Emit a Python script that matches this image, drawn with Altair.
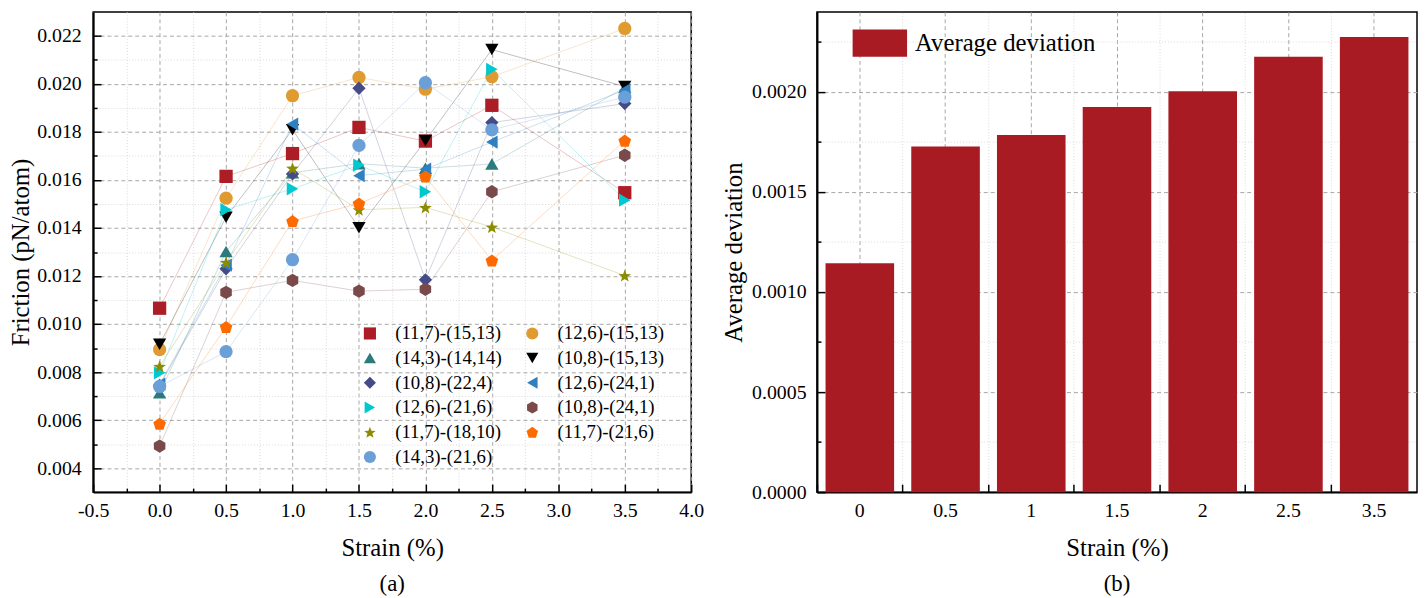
import math
import altair as alt
import pandas as pd

# ---------------- data ----------------
strain = [0.0, 0.5, 1.0, 1.5, 2.0, 2.5, 3.5]

series_names = [
    "(11,7)-(15,13)", "(12,6)-(15,13)", "(14,3)-(14,14)", "(10,8)-(15,13)",
    "(10,8)-(22,4)", "(12,6)-(24,1)", "(12,6)-(21,6)", "(10,8)-(24,1)",
    "(11,7)-(18,10)", "(11,7)-(21,6)", "(14,3)-(21,6)",
]

f_11_7_15_13 = [0.01066, 0.01615, 0.01710, 0.01819, 0.01762, 0.01911, 0.01547]
f_12_6_15_13 = [0.00894, 0.01524, 0.01951, 0.02027, 0.01978, 0.02030, 0.02231]
f_14_3_14_14 = [0.00714, 0.01302, 0.01630, 0.01668, 0.01649, 0.01667, 0.01985]
f_10_8_15_13 = [0.00916, 0.01445, 0.01809, 0.01401, 0.01764, 0.02143, 0.01989]
f_10_8_22_4 = [0.00745, 0.01230, 0.01625, 0.01982, 0.01184, 0.01839, 0.01918]
f_12_6_24_1 = [0.00750, 0.01245, 0.01833, 0.01618, 0.01645, 0.01758, 0.01975]
f_12_6_21_6 = [0.00797, 0.01476, 0.01563, 0.01662, 0.01551, 0.02061, 0.01516]
f_10_8_24_1 = [0.00492, 0.01132, 0.01182, 0.01137, 0.01145, 0.01551, 0.01703]
f_11_7_18_10 = [0.00824, 0.01257, 0.01649, 0.01476, 0.01486, 0.01404, 0.01202]
f_11_7_21_6 = [0.00585, 0.00988, 0.01429, 0.01502, 0.01615, 0.01265, 0.01764]
f_14_3_21_6 = [0.00740, 0.00885, 0.01268, 0.01744, 0.02005, 0.01809, 0.01945]

series_values = [
    f_11_7_15_13, f_12_6_15_13, f_14_3_14_14, f_10_8_15_13, f_10_8_22_4,
    f_12_6_24_1, f_12_6_21_6, f_10_8_24_1, f_11_7_18_10, f_11_7_21_6, f_14_3_21_6,
]

series_colors = [
    "#AD1D25", "#E09B30", "#2B7B7E", "#000000", "#454B87", "#2E80C0",
    "#00C8CF", "#7A4A4A", "#8C8C00", "#FF6A00", "#6A9FD8",
]


def poly_path(pts):
    return "M" + "L".join(f"{x:.3f},{y:.3f}" for x, y in pts) + "Z"


hexagon = poly_path([(math.cos(math.radians(-90 + 60 * k)), math.sin(math.radians(-90 + 60 * k))) for k in range(6)])
pentagon = poly_path([(math.cos(math.radians(-90 + 72 * k)), math.sin(math.radians(-90 + 72 * k)) + 0.1) for k in range(5)])
star = poly_path([
    ((1.0 if k % 2 == 0 else 0.42) * math.cos(math.radians(-90 + 36 * k)),
     (1.0 if k % 2 == 0 else 0.42) * math.sin(math.radians(-90 + 36 * k)) + 0.1)
    for k in range(10)
])

series_shapes = [
    "square", "circle", "triangle-up", "triangle-down", "diamond",
    "triangle-left", "triangle-right", hexagon, star, pentagon, "circle",
]

# legend reads row by row in 2 columns; vega fills columns first
legend_order = [0, 2, 4, 6, 8, 10, 1, 3, 5, 7, 9]

strain_labels_b = ["0", "0.5", "1", "1.5", "2", "2.5", "3.5"]
avg_deviation = [0.001144, 0.001727, 0.001785, 0.001925, 0.002004, 0.002176, 0.002275]

# tick lists
xa_ticks = [round(-0.5 + 0.25 * i, 2) for i in range(19)]
ya_ticks = [round(0.004 + 0.001 * i, 3) for i in range(19)]
yb_ticks = [round(0.00025 * i, 5) for i in range(10)]

rows = []
for name, vals in zip(series_names, series_values):
    for s, v in zip(strain, vals):
        rows.append({"strain": s, "friction": v, "series": name})
df_a = pd.DataFrame(rows)

df_b = pd.DataFrame({"strain": strain_labels_b, "dev": avg_deviation,
                     "name": ["Average deviation"] * len(avg_deviation)})

# ---------------- style ----------------
W_A, W_B, H = 604, 606, 485
FONT = "Liberation Serif"
MAJ_GRID = "#a6a6a6"
MIN_GRID = "#dadada"
TITLE_SIZE = 25


def cond(test, a, b):
    return {"condition": {"test": test, "value": a}, "value": b}


xa_major = "abs(round(datum.value*4)) % 2 == 0"
ya_major = "round(datum.value*1000) % 2 == 0"
yb_major = "round(datum.value*4000) % 2 == 0"

xa_scale = alt.Scale(domain=[-0.5, 4.0], nice=False, zero=False)
ya_scale = alt.Scale(domain=[0.003, 0.023], nice=False, zero=False)

dom_a = [series_names[i] for i in legend_order]
color_a = alt.Scale(domain=dom_a, range=[series_colors[i] for i in legend_order])
shape_a = alt.Scale(domain=dom_a, range=[series_shapes[i] for i in legend_order])

legend_a = alt.Legend(
    title=None, orient="none", legendX=270, legendY=315, columns=2, direction="vertical",
    labelFontSize=19, labelFont=FONT, labelColor="black", labelLimit=300,
    symbolSize=150, symbolStrokeWidth=0,
    symbolOpacity=1, labelOffset=16, columnPadding=21, rowPadding=5,
)

main_xa = alt.Axis(
    values=xa_ticks,
    labelExpr=f"{xa_major} ? (datum.value < 0 ? '-' + format(abs(datum.value), '.1f') : format(datum.value, '.1f')) : ''",
    labelFlush=False, labelOverlap=False, labelFontSize=20, labelFont=FONT, labelPadding=9,
    ticks=False, domain=True, domainColor="black", domainWidth=2,
    grid=True, gridColor=cond(xa_major, MAJ_GRID, MIN_GRID),
    gridDash=cond(xa_major, [4, 3], [1, 2]), gridWidth=1,
    title="Strain (%)", titleFontSize=TITLE_SIZE, titleFont=FONT, titlePadding=15,
)
main_ya = alt.Axis(
    values=ya_ticks,
    labelExpr=f"{ya_major} ? format(datum.value, '.3f') : ''",
    labelOverlap=False, labelFontSize=20, labelFont=FONT, labelPadding=12,
    ticks=False, domain=True, domainColor="black", domainWidth=2,
    grid=True, gridColor=cond(ya_major, MAJ_GRID, MIN_GRID),
    gridDash=cond(ya_major, [4, 3], [1, 2]), gridWidth=1,
    title="Friction (pN/atom)", titleFontSize=TITLE_SIZE, titleFont=FONT, titlePadding=3,
)
tick_xa = alt.Axis(
    orient="top", offset=-H, values=xa_ticks, labels=False, domain=False, grid=False,
    ticks=True, tickColor="black", tickWidth=1.5, tickSize=cond(xa_major, 8, 4), title=None,
)
tick_ya = alt.Axis(
    orient="right", offset=-W_A, values=ya_ticks, labels=False, domain=False, grid=False,
    ticks=True, tickColor="black", tickWidth=1.5, tickSize=cond(ya_major, 8, 4), title=None,
)

lines = alt.Chart(df_a).mark_line(strokeWidth=1, opacity=0.25).encode(
    x=alt.X("strain:Q", scale=xa_scale, axis=main_xa),
    y=alt.Y("friction:Q", scale=ya_scale, axis=main_ya),
    color=alt.Color("series:N", scale=color_a, legend=legend_a),
    detail="series:N",
)
points = alt.Chart(df_a).mark_point(filled=True, size=180, opacity=1, strokeWidth=0).encode(
    x=alt.X("strain:Q", scale=xa_scale, axis=tick_xa),
    y=alt.Y("friction:Q", scale=ya_scale, axis=tick_ya),
    color=alt.Color("series:N", scale=color_a, legend=legend_a),
    shape=alt.Shape("series:N", scale=shape_a, legend=legend_a),
)
panel_a = alt.layer(lines, points).resolve_axis(x="independent", y="independent").properties(
    width=W_A, height=H,
    title=alt.TitleParams("(a)", orient="bottom", anchor="middle", frame="group",
                          fontSize=23, fontWeight="normal", font=FONT, offset=13),
)

# ---------------- panel b ----------------
yb_scale = alt.Scale(domain=[0, 0.0024], nice=False)
xb_scale = alt.Scale(domain=strain_labels_b, paddingInner=0, paddingOuter=0)

main_xb = alt.Axis(
    labelAngle=0, labelFontSize=20, labelFont=FONT, labelPadding=9, ticks=False, domain=True,
    domainColor="black", domainWidth=2, grid=True, gridColor=MAJ_GRID, gridDash=[4, 3],
    bandPosition=0.5, title="Strain (%)", titleFontSize=TITLE_SIZE, titleFont=FONT, titlePadding=15,
)
main_yb = alt.Axis(
    values=yb_ticks,
    labelExpr=f"{yb_major} ? format(datum.value, '.4f') : ''",
    labelOverlap=False, labelFontSize=20, labelFont=FONT, labelPadding=11,
    ticks=False, domain=True, domainColor="black", domainWidth=2,
    grid=True, gridColor=cond(yb_major, MAJ_GRID, MIN_GRID),
    gridDash=cond(yb_major, [4, 3], [1, 2]), gridWidth=1,
    title="Average deviation", titleFontSize=TITLE_SIZE, titleFont=FONT, titlePadding=5,
)
tick_xb = alt.Axis(
    orient="top", offset=-H, labels=False, domain=False, grid=True,
    gridColor=MIN_GRID, gridDash=[1, 2], bandPosition=0,
    ticks=True, tickColor="black", tickWidth=1.5, tickSize=8, title=None,
)
tick_yb = alt.Axis(
    orient="right", offset=-W_B, values=yb_ticks, labels=False, domain=False, grid=False,
    ticks=True, tickColor="black", tickWidth=1.5, tickSize=cond(yb_major, 8, 4), title=None,
)

bars = alt.Chart(df_b).mark_bar(width={"band": 0.8}).encode(
    x=alt.X("strain:N", scale=xb_scale, sort=strain_labels_b, axis=main_xb),
    y=alt.Y("dev:Q", scale=yb_scale, axis=main_yb),
    color=alt.Color("name:N", scale=alt.Scale(domain=["Average deviation"], range=["#A81B23"]),
                    legend=alt.Legend(title=None, orient="none", legendX=36, legendY=4,
                                      symbolType="M-1,-0.5H1V0.5H-1Z", symbolSize=3025,
                                      symbolStrokeWidth=0, symbolOpacity=1, labelLimit=400,
                                      labelFontSize=25, labelFont=FONT, labelColor="black",
                                      labelOffset=8)),
)
ticks_b = alt.Chart(df_b).mark_bar(opacity=0, width={"band": 0.8}).encode(
    x=alt.X("strain:N", scale=xb_scale, sort=strain_labels_b, axis=tick_xb),
    y=alt.Y("dev:Q", scale=yb_scale, axis=tick_yb),
)
panel_b = alt.layer(bars, ticks_b).resolve_axis(x="independent", y="independent").properties(
    width=W_B, height=H,
    title=alt.TitleParams("(b)", orient="bottom", anchor="middle", frame="group",
                          fontSize=23, fontWeight="normal", font=FONT, offset=13),
)

chart = alt.hconcat(panel_a, panel_b, spacing=16).resolve_scale(
    color="independent", shape="independent", x="independent", y="independent"
).properties(
    padding={"left": 0, "top": 0, "right": 0, "bottom": 0}
).configure(font=FONT).configure_view(
    stroke="black", strokeWidth=1.5
).configure_axis(
    labelColor="black", titleColor="black", titleFontWeight="normal", labelFont=FONT, titleFont=FONT
).configure_legend(labelColor="black", labelFont=FONT, labelFontSize=19, symbolSize=150, labelLimit=300)

chart.save("out.html", embed_options={"renderer": "svg", "actions": False})
